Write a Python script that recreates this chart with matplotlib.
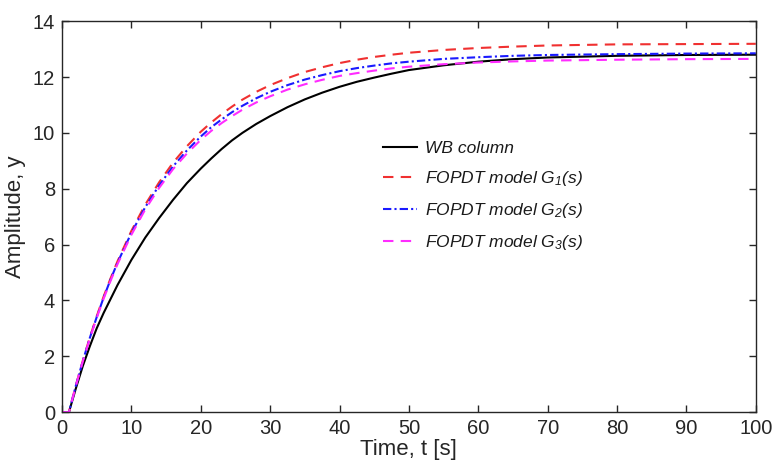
import matplotlib
matplotlib.use("Agg")
import matplotlib.pyplot as plt

plt.rcParams['font.family'] = ['Liberation Sans', 'DejaVu Sans']
plt.rcParams['mathtext.fontset'] = 'custom'
plt.rcParams['mathtext.rm'] = 'Liberation Sans:style=italic'
plt.rcParams['mathtext.it'] = 'Liberation Sans:style=italic'

# Step responses (time in seconds)
time = [0, 1, 2, 3, 4, 5, 6, 7, 8, 10, 12, 14, 16, 18, 20, 21.5, 23, 24.5,
        26, 28, 30, 32.5, 35, 37.5, 40, 42.5, 45, 47.5, 50, 55, 60, 65, 70,
        80, 90, 100]

wb_column = [0, 0, 0.85, 1.65, 2.35, 3.0, 3.55, 4.05, 4.55, 5.45, 6.25, 6.95,
             7.6, 8.2, 8.72, 9.08, 9.42, 9.73, 10.0, 10.32, 10.6, 10.92,
             11.2, 11.44, 11.65, 11.83, 11.98, 12.12, 12.25, 12.42, 12.55,
             12.64, 12.7, 12.76, 12.79, 12.8]

fopdt_g1 = [0, 0, 0.96, 1.84, 2.67, 3.43, 4.14, 4.79, 5.40, 6.49, 7.43, 8.23,
            8.93, 9.52, 10.04, 10.37, 10.67, 10.94, 11.19, 11.47, 11.71,
            11.96, 12.18, 12.35, 12.50, 12.62, 12.72, 12.80, 12.87, 12.97,
            13.04, 13.09, 13.13, 13.17, 13.18, 13.19]

fopdt_g2 = [0, 0, 0.95, 1.83, 2.65, 3.40, 4.10, 4.75, 5.35, 6.42, 7.34, 8.12,
            8.80, 9.37, 9.87, 10.20, 10.48, 10.74, 10.97, 11.24, 11.47,
            11.71, 11.91, 12.07, 12.21, 12.32, 12.41, 12.49, 12.55, 12.65,
            12.71, 12.76, 12.79, 12.82, 12.84, 12.85]

fopdt_g3 = [0, 0, 0.94, 1.82, 2.62, 3.37, 4.06, 4.70, 5.30, 6.35, 7.26, 8.03,
            8.70, 9.26, 9.75, 10.07, 10.35, 10.60, 10.83, 11.09, 11.31,
            11.55, 11.74, 11.90, 12.04, 12.14, 12.23, 12.31, 12.37, 12.46,
            12.52, 12.56, 12.59, 12.62, 12.64, 12.65]

labels = ['WB column', r'FOPDT model $G_1(s)$',
          r'FOPDT model $G_2(s)$', r'FOPDT model $G_3(s)$']

fig = plt.figure(figsize=(7.72, 4.71), dpi=100)
ax = fig.add_axes([0.0803, 0.125, 0.8987, 0.830])

ax.plot(time, wb_column, color='black', lw=1.5, ls='-', label=labels[0])
ax.plot(time, fopdt_g1, color='#f03030', lw=1.5, ls=(0, (5, 3.5)), label=labels[1])
ax.plot(time, fopdt_g2, color='#1a1aff', lw=1.5, ls=(0, (4, 1.5, 1, 1.5)), label=labels[2])
ax.plot(time, fopdt_g3, color='#ff2cff', lw=1.5, ls=(0, (5, 3.5)), label=labels[3])

ax.set_xlim(0, 100)
ax.set_ylim(0, 14)
ax.set_xticks(range(0, 101, 10))
ax.set_yticks(range(0, 15, 2))

axis_color = '#262626'
for sp in ax.spines.values():
    sp.set_color(axis_color)
    sp.set_linewidth(1.0)
ax.tick_params(direction='in', length=5, width=1.0, top=True, right=True,
               colors=axis_color, labelsize=14.5, pad=5)

ax.set_xlabel('Time, t [s]', fontsize=16, color=axis_color, labelpad=1)
ax.set_ylabel('Amplitude, y', fontsize=16, color=axis_color, labelpad=5)

leg = ax.legend(loc='upper left', bbox_to_anchor=(0.452, 0.712), frameon=False,
                fontsize=12.5, handlelength=2.0, handletextpad=0.45,
                labelspacing=0.75, borderaxespad=0)
for txt in leg.get_texts():
    txt.set_fontstyle('italic')
    txt.set_color('#1a1a1a')

fig.savefig('out.png', dpi=100)
